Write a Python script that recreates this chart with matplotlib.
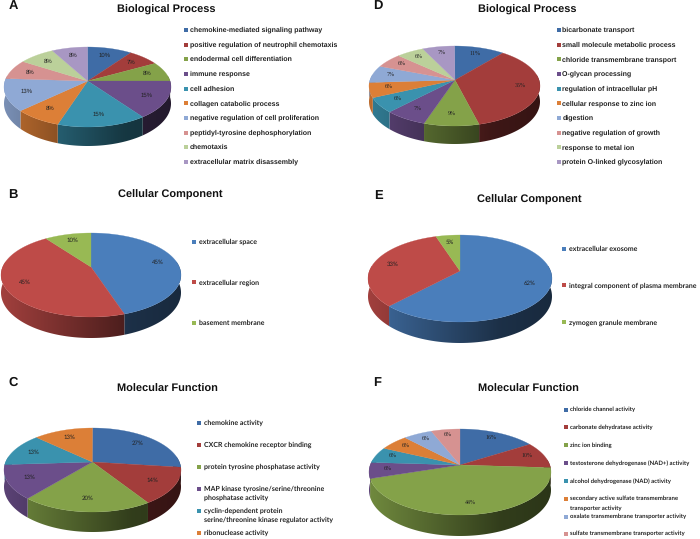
import numpy as np
import matplotlib
matplotlib.use('Agg')
import matplotlib.pyplot as plt
from matplotlib.patches import Polygon

plt.rcParams['text.hinting'] = 'no_hinting'
plt.rcParams['text.hinting_factor'] = 1

# A
bp1_terms = ['chemokine-mediated signaling pathway', 'positive regulation of neutrophil chemotaxis',
             'endodermal cell differentiation', 'immune response', 'cell adhesion',
             'collagen catabolic process', 'negative regulation of cell proliferation',
             'peptidyl-tyrosine dephosphorylation', 'chemotaxis', 'extracellular matrix disassembly']
bp1_values = [10, 7, 8, 15, 15, 8, 13, 8, 8, 8]
# B
cc1_terms = ['extracellular space', 'extracellular region', 'basement membrane']
cc1_values = [45, 45, 10]
# C
mf1_terms = ['chemokine activity', 'CXCR chemokine receptor binding', 'protein tyrosine phosphatase activity',
             'MAP kinase tyrosine/serine/threonine\nphosphatase activity',
             'cyclin-dependent protein\nserine/threonine kinase regulator activity', 'ribonuclease activity']
mf1_values = [27, 14, 20, 13, 13, 13]
# D
bp2_terms = ['bicarbonate transport', 'small molecule metabolic process', 'chloride transmembrane transport',
             'O-glycan processing', 'regulation of intracellular pH', 'cellular response to zinc ion',
             'digestion', 'negative regulation of growth', 'response to metal ion',
             'protein O-linked glycosylation']
bp2_values = [11, 35, 9, 7, 6, 6, 7, 6, 6, 7]
# E
cc2_terms = ['extracellular exosome', 'integral component of plasma membrane', 'zymogen granule membrane']
cc2_values = [62, 33, 5]
# F
mf2_terms = ['chloride channel activity', 'carbonate dehydratase activity', 'zinc ion binding',
             'testosterone dehydrogenase (NAD+) activity', 'alcohol dehydrogenase (NAD) activity',
             'secondary active sulfate transmembrane\ntransporter activity',
             'oxalate transmembrane transporter activity', 'sulfate transmembrane transporter activity']
mf2_values = [16, 10, 44, 6, 6, 6, 6, 6]

dark_colors = ['#3F6CA6', '#A33D3B', '#84A249', '#6B4E8A', '#3A92AE',
               '#DC7F37', '#8FA9D5', '#D69291', '#BBD09A', '#A897C3']
bright_colors = ['#4A7EBB', '#BE4B48', '#98B954']

fig = plt.figure(figsize=(7, 5.39), dpi=100)
ax = fig.add_axes([0, 0, 1, 1])
ax.axis('off')


# 3D-looking pie, slices clockwise from 12 o'clock, back of the disc shrunk a bit
def pie3d(values, colors, cx, cy, top, bottom, left, right, depth, label_r, label_font):
    ry = 2 / (1 / (cy - top) + 1 / (bottom - cy))
    k = ry / (cy - top) - 1
    rx = (right - left) / 2 * np.sqrt(1 - k * k)
    xmid = (left + right) / 2

    def project(theta, r=1.0):
        x = r * np.sin(theta)
        y = r * np.cos(theta)
        w = 1 + k * y
        return xmid + (cx - xmid) * (1 - r) + rx * x / w, cy - ry * y / w

    edges = np.cumsum([0] + list(values)) / sum(values) * 2 * np.pi
    # side wall first, a horizontal gradient clipped to each slice's rim
    fade = np.interp(np.linspace(0, 1, 256), [0, 0.72, 1], [0.85, 0.38, 0.33])
    for i in range(len(values)):
        th = np.linspace(edges[i], edges[i + 1], 120)
        th = th[np.cos(th) < 0.25]
        if len(th) < 2:
            continue
        xs, ys = project(th)
        drop = depth * (1 - k) / (1 + k * np.cos(th))
        pts = np.c_[np.r_[xs, xs[::-1]], np.r_[ys, (ys + drop)[::-1]]]
        grad = np.outer(fade, matplotlib.colors.to_rgb(colors[i]))[np.newaxis, :, :]
        im = ax.imshow(grad, extent=[left, right, bottom + depth + 2, cy - 5], aspect='auto', zorder=1)
        im.set_clip_path(Polygon(pts, closed=True, transform=ax.transData))
    # top face
    for i in range(len(values)):
        th = np.linspace(edges[i], edges[i + 1], 80)
        xs, ys = project(th)
        ax.fill(np.r_[cx, xs], np.r_[cy, ys], color=colors[i], lw=0.2, zorder=2)
    # percent labels
    for i, v in enumerate(values):
        x, y = project((edges[i] + edges[i + 1]) / 2, label_r)
        ax.text(x, y, '%d%%' % v, ha='center', va='center', fontsize=4.3,
                family=label_font, color='#222222', zorder=3)


def legend(terms, colors, mx, tx, ys, font, size):
    for term, c, y in zip(terms, colors, ys):
        ax.scatter([mx], [y], marker='s', s=8.5, color=c, linewidths=0)
        for j, line in enumerate(term.split('\n')):
            ax.text(tx, y + j * 9.2, line, ha='left', va='center', fontsize=size,
                    family=font, fontweight='bold', color='#222222')


def heading(title, x, y, letter, lx, ly):
    ax.text(x, y, title, ha='center', va='center', fontsize=8.15, family='Liberation Sans',
            fontweight='bold', color='#111111')
    ax.text(lx, ly, letter, ha='center', va='center', fontsize=9, family='Liberation Sans',
            fontweight='bold', color='#111111')


heading('Biological Process', 166.7, 9.5, 'A', 13, 6)
pie3d(bp1_values, dark_colors, 87.7, 81, 47, 127, 4, 171, 19, 0.76, 'Liberation Sans')
legend(bp1_terms, dark_colors, 186, 190, np.linspace(30, 162, 10), 'Liberation Sans', 4.95)

heading('Cellular Component', 170, 195, 'B', 13, 194.7)
pie3d(cc1_values, bright_colors, 91, 267, 233, 317, 1, 181, 21, 0.78, 'Lato')
legend(cc1_terms, bright_colors, 194, 198.7, [242, 282.3, 323], 'Lato', 5.1)

heading('Molecular Function', 167.5, 389, 'C', 13, 383)
pie3d(mf1_values, dark_colors, 92.3, 462, 428, 512, 4, 181, 20, 0.76, 'Lato')
legend(mf1_terms, dark_colors, 199.3, 203.7, [423, 445, 467, 489, 510.7, 532.7], 'Lato', 5.15)

heading('Biological Process', 527, 9.5, 'D', 378, 6)
pie3d(bp2_values, dark_colors, 455, 80, 46, 126, 369, 540, 18, 0.78, 'Liberation Serif')
legend(bp2_terms, dark_colors, 559, 562.3, np.linspace(30, 162, 10), 'Liberation Sans', 4.95)

heading('Cellular Component', 529.3, 200, 'E', 378, 195.7)
pie3d(cc2_values, bright_colors, 460, 271, 235, 322, 368, 552, 21, 0.78, 'Lato')
legend(cc2_terms, bright_colors, 564.3, 568.7, [248.7, 285.3, 322.3], 'Lato', 5.15)

heading('Molecular Function', 528.8, 389, 'F', 377, 383)
pie3d(mf2_values, dark_colors, 460, 465, 429, 515, 369, 551, 21, 0.8, 'Liberation Serif')
legend(mf2_terms, dark_colors, 566, 570, [409.7, 427.3, 445.3, 463, 481, 498.7, 516.7, 533.5], 'Lato', 4.65)

ax.set_xlim(0, 700)
ax.set_ylim(539, 0)
fig.savefig('out.png', dpi=100)
